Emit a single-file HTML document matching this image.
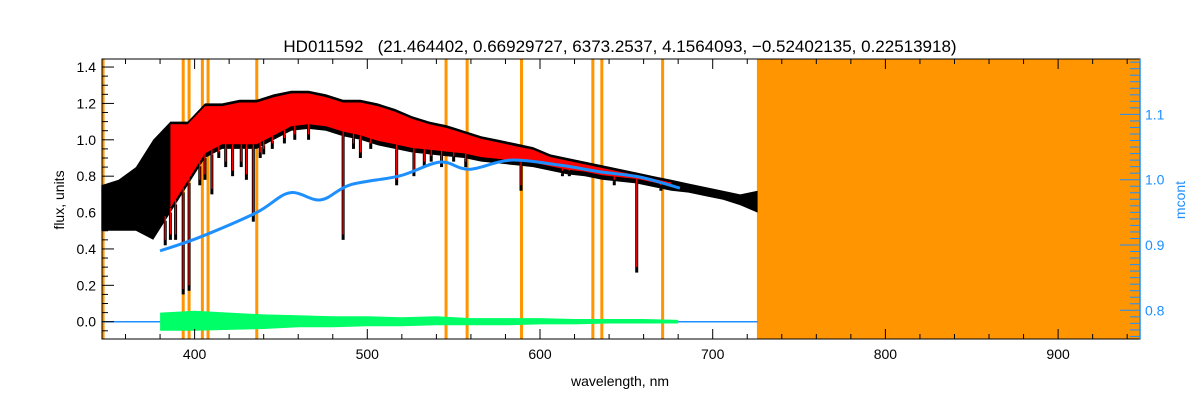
<!DOCTYPE html>
<html><head><meta charset="utf-8"><style>
html,body{margin:0;padding:0;background:#fff;}
svg{display:block;font-family:"Liberation Sans",sans-serif;}
</style></head><body>
<svg id="chart" width="1200" height="400" viewBox="0 0 1200 400">
<text x="620" y="52" font-size="17" text-anchor="middle" fill="#000" xml:space="preserve" style="white-space:pre">HD011592   (21.464402, 0.66929727, 6373.2537, 4.1564093, −0.52402135, 0.22513918)</text>
<g id="plot"></g>
<text x="620" y="386" font-size="14" text-anchor="middle">wavelength, nm</text>
<text transform="translate(64,200) rotate(-90)" font-size="14" text-anchor="middle">flux, units</text>
<text transform="translate(1185,200) rotate(-90)" font-size="14" text-anchor="middle" fill="#1e8fff">mcont</text>
</svg>
<script>
// data
const specWl = [346,356,366,376,386,396,406,416,426,436,446,456,466,476,486,496,506,516,526,536,546,556,566,576,586,596,606,616,626,636,646,656,666,676,686,696,706,716,726];
const specHi = [0.75,0.78,0.85,1.0,1.1,1.1,1.2,1.2,1.22,1.22,1.25,1.27,1.27,1.25,1.22,1.22,1.2,1.17,1.13,1.1,1.08,1.05,1.02,1.0,0.98,0.96,0.92,0.9,0.88,0.86,0.84,0.82,0.8,0.78,0.76,0.74,0.72,0.7,0.72];
const specLo = [0.5,0.5,0.5,0.45,0.6,0.75,0.9,0.95,0.95,0.95,1.0,1.05,1.06,1.05,1.02,1.0,0.97,0.95,0.93,0.92,0.91,0.9,0.88,0.87,0.86,0.85,0.83,0.81,0.8,0.78,0.77,0.76,0.74,0.72,0.71,0.69,0.67,0.64,0.6];
const lineWl = [383,386,389,393.4,396.8,403,406,410,414,418,422,427,430,434,438,440,445,452,458,466,486,492,496,502,517,527,533,537,543,550,557,589,613,617,643,649,656,670];
const lineDepth = [0.42,0.45,0.45,0.15,0.17,0.75,0.78,0.7,0.9,0.85,0.8,0.85,0.78,0.55,0.9,0.92,0.95,0.98,1.0,1.0,0.45,0.95,0.9,0.95,0.75,0.8,0.85,0.88,0.85,0.88,0.85,0.72,0.8,0.8,0.75,0.78,0.27,0.72];
const contWl = [380,403,436,455,473,490,519,542,559,583,612,635,658,681];
const contVal = [0.891,0.912,0.950,0.980,0.969,0.992,1.006,1.027,1.016,1.030,1.022,1.012,1.004,0.987];
const residWl = [380,400,420,440,460,480,500,520,540,560,580,600,620,640,660,680];
const residHi = [0.05,0.06,0.05,0.04,0.035,0.03,0.03,0.025,0.03,0.02,0.02,0.02,0.015,0.015,0.015,0.01];
const residLo = [-0.05,-0.05,-0.045,-0.04,-0.03,-0.03,-0.025,-0.025,-0.02,-0.02,-0.02,-0.015,-0.015,-0.01,-0.01,-0.01];
const maskWl = [347,393.4,396.8,404.5,407.8,436,545.6,557.8,589.3,630.6,635.8,671];
const maskStart = 725.6;
const xTicks = [400,500,600,700,800,900];
const yTicks = [0.0,0.2,0.4,0.6,0.8,1.0,1.2,1.4];
const y2Ticks = [0.8,0.9,1.0,1.1];

const L=102,R=1140,T=59,B=339;
const X=w=>540+(w-600)*1.727;
const Y=f=>321.7-f*181.9;
const Y2=m=>310.3-(m-0.8)*653;
const NS="http://www.w3.org/2000/svg";
const g=document.getElementById('plot');
function mk(tag,attrs){const e=document.createElementNS(NS,tag);for(const k in attrs)e.setAttribute(k,attrs[k]);g.appendChild(e);return e;}
function band(wl,hi,lo,a,b){let p=[];for(let i=0;i<wl.length;i++){if(wl[i]<a||wl[i]>b)continue;p.push(X(wl[i]).toFixed(1)+','+Y(hi[i]).toFixed(1));}
 for(let i=wl.length-1;i>=0;i--){if(wl[i]<a||wl[i]>b)continue;p.push(X(wl[i]).toFixed(1)+','+Y(lo[i]).toFixed(1));}return p.join(' ');}
function interp(wl,v,w){for(let i=0;i<wl.length-1;i++){if(w>=wl[i]&&w<=wl[i+1]){const t=(w-wl[i])/(wl[i+1]-wl[i]);return v[i]+t*(v[i+1]-v[i]);}}return v[v.length-1];}
function smooth(pts){let d='M'+pts[0][0]+','+pts[0][1];for(let i=0;i<pts.length-1;i++){const p0=pts[Math.max(0,i-1)],p1=pts[i],p2=pts[i+1],p3=pts[Math.min(pts.length-1,i+2)];
 const c1=[p1[0]+(p2[0]-p0[0])/6,p1[1]+(p2[1]-p0[1])/6],c2=[p2[0]-(p3[0]-p1[0])/6,p2[1]-(p3[1]-p1[1])/6];
 d+=' C'+c1[0].toFixed(1)+','+c1[1].toFixed(1)+' '+c2[0].toFixed(1)+','+c2[1].toFixed(1)+' '+p2[0].toFixed(1)+','+p2[1].toFixed(1);}return d;}

// orange mask region
let e=mk('rect',{x:X(maskStart),y:T,width:R-X(maskStart),height:B-T,fill:'#ff9500'});


maskWl.forEach(w=>{const m=mk('rect',{x:X(w)-1.5,y:T,width:3,height:B-T,fill:'#ff9500'});

});

// zero line
e=mk('line',{x1:L,x2:X(726),y1:Y(0),y2:Y(0),stroke:'#1e8fff','stroke-width':1.5});



// black observed spectrum
e=mk('polygon',{points:band(specWl,specHi,specLo,340,730),fill:'#000'});


lineWl.forEach((w,i)=>{const top=interp(specWl,specLo,w);const s=mk('rect',{x:X(w)-1.5,y:Y(top),width:3,height:Math.max(0,Y(lineDepth[i])-Y(top)),fill:'#000'});

});
// red model
const redHi=specHi.map(v=>v-0.015), redLo=specLo.map(v=>v+0.025);
e=mk('polygon',{points:band(specWl,redHi,redLo,380,680),fill:'#ff0000'});


lineWl.forEach((w,i)=>{if(w<380||w>680)return;const top=interp(specWl,redLo,w);const s=mk('rect',{x:X(w)-0.6,y:Y(top),width:1.2,height:Math.max(0,Y(lineDepth[i]+0.03)-Y(top)),fill:'#ff0000'});

});

// continuum
e=mk('path',{d:smooth(contWl.map((w,i)=>[X(w),Y2(contVal[i])])),fill:'none',stroke:'#1e8fff','stroke-width':3});



// residuals
e=mk('polygon',{points:band(residWl,residHi,residLo,370,690),fill:'#00ff66'});



// frame
e=mk('rect',{x:L,y:T,width:R-L,height:B-T,fill:'none',stroke:'#000','stroke-width':1});


mk('line',{x1:R,x2:R,y1:T,y2:B,stroke:'#1e8fff','stroke-width':1.5});

// x ticks
for(let w=360;w<=940;w+=20){const major=w%100===0,l=major?10:5;
 mk('line',{x1:X(w),x2:X(w),y1:B,y2:B-l,stroke:'#000'});mk('line',{x1:X(w),x2:X(w),y1:T,y2:T+l,stroke:'#000'});}
xTicks.forEach(w=>{const t=mk('text',{x:X(w),y:B+20,'font-size':14,'text-anchor':'middle'});t.textContent=w;

});
// y ticks
for(let i=-1;i<=28;i++){const f=i*0.05;if(Y(f)<T||Y(f)>B)continue;const major=i%4===0,l=major?12:6;
 mk('line',{x1:L,x2:L+l,y1:Y(f),y2:Y(f),stroke:'#000'});}
yTicks.forEach(f=>{const t=mk('text',{x:L-6,y:Y(f)+5,'font-size':14,'text-anchor':'end'});t.textContent=f.toFixed(1);

});
// right ticks
for(let i=76;i<=119;i++){const m=i/100;if(Y2(m)<T||Y2(m)>B)continue;const l=i%10===0?20:10;
 mk('line',{x1:R-l,x2:R,y1:Y2(m),y2:Y2(m),stroke:'#1e8fff'});}
y2Ticks.forEach(m=>{const t=mk('text',{x:R+5,y:Y2(m)+5,'font-size':14,fill:'#1e8fff'});t.textContent=m.toFixed(1);

});
</script>
</body></html>
